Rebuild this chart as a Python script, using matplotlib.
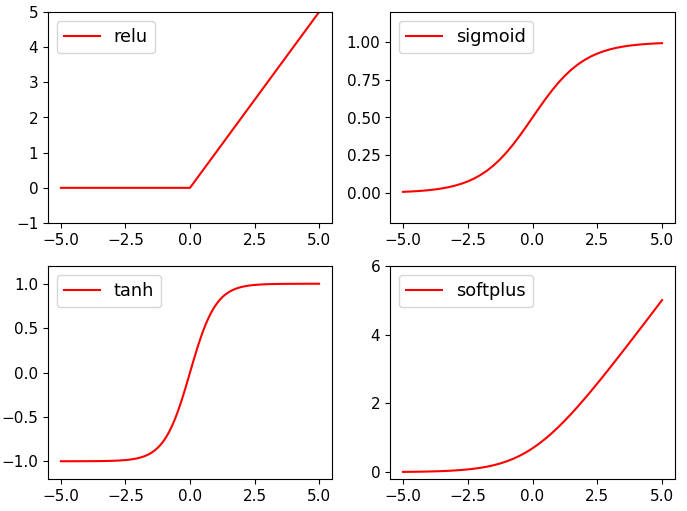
import matplotlib
matplotlib.use("Agg")
import matplotlib.pyplot as plt

x = [-5.0, -4.75, -4.5, -4.25, -4.0, -3.75, -3.5, -3.25, -3.0, -2.75, -2.5, -2.25,
     -2.0, -1.75, -1.5, -1.25, -1.0, -0.75, -0.5, -0.25, 0.0, 0.25, 0.5, 0.75,
     1.0, 1.25, 1.5, 1.75, 2.0, 2.25, 2.5, 2.75, 3.0, 3.25, 3.5, 3.75, 4.0,
     4.25, 4.5, 4.75, 5.0]

relu = [0.0] * 21 + [0.25, 0.5, 0.75, 1.0, 1.25, 1.5, 1.75, 2.0, 2.25, 2.5, 2.75,
                     3.0, 3.25, 3.5, 3.75, 4.0, 4.25, 4.5, 4.75, 5.0]

sigmoid = [0.0067, 0.0086, 0.0110, 0.0141, 0.0180, 0.0230, 0.0293, 0.0373, 0.0474,
           0.0601, 0.0759, 0.0953, 0.1192, 0.1480, 0.1824, 0.2227, 0.2689, 0.3208,
           0.3775, 0.4378, 0.5000, 0.5622, 0.6225, 0.6792, 0.7311, 0.7773, 0.8176,
           0.8520, 0.8808, 0.9047, 0.9241, 0.9399, 0.9526, 0.9627, 0.9707, 0.9770,
           0.9820, 0.9859, 0.9890, 0.9914, 0.9933]

x_tanh = [-5.0, -4.5, -4.0, -3.75, -3.5, -3.25, -3.0, -2.75,
          -2.5, -2.4, -2.3, -2.2, -2.1, -2.0, -1.9, -1.8, -1.7, -1.6, -1.5, -1.4,
          -1.3, -1.2, -1.1, -1.0, -0.9, -0.8, -0.7, -0.6, -0.5, -0.4, -0.3, -0.2,
          -0.1, 0.0, 0.1, 0.2, 0.3, 0.4, 0.5, 0.6, 0.7, 0.8, 0.9, 1.0, 1.1, 1.2,
          1.3, 1.4, 1.5, 1.6, 1.7, 1.8, 1.9, 2.0, 2.1, 2.2, 2.3, 2.4, 2.5,
          2.75, 3.0, 3.25, 3.5, 3.75, 4.0, 4.5, 5.0]

tanh = [-0.9999, -0.9998, -0.9993, -0.9989, -0.9982, -0.9970, -0.9951, -0.9918,
        -0.9866, -0.9837, -0.9801, -0.9757, -0.9705, -0.9640, -0.9562, -0.9468,
        -0.9354, -0.9217, -0.9051, -0.8854, -0.8617, -0.8337, -0.8005, -0.7616,
        -0.7163, -0.6640, -0.6044, -0.5370, -0.4621, -0.3799, -0.2913, -0.1974,
        -0.0997, 0.0, 0.0997, 0.1974, 0.2913, 0.3799, 0.4621, 0.5370, 0.6044,
        0.6640, 0.7163, 0.7616, 0.8005, 0.8337, 0.8617, 0.8854, 0.9051, 0.9217,
        0.9354, 0.9468, 0.9562, 0.9640, 0.9705, 0.9757, 0.9801, 0.9837, 0.9866,
        0.9918, 0.9951, 0.9970, 0.9982, 0.9989, 0.9993, 0.9998, 0.9999]

softplus = [0.0067, 0.0086, 0.0110, 0.0141, 0.0181, 0.0232, 0.0298, 0.0380, 0.0486,
            0.0620, 0.0789, 0.1002, 0.1269, 0.1602, 0.2014, 0.2519, 0.3133, 0.3869,
            0.4741, 0.5759, 0.6931, 0.8259, 0.9741, 1.1369, 1.3133, 1.5019, 1.7014,
            1.9102, 2.1269, 2.3502, 2.5789, 2.8120, 3.0486, 3.2880, 3.5298, 3.7732,
            4.0181, 4.2641, 4.5110, 4.7586, 5.0067]

xticks = [-5.0, -2.5, 0.0, 2.5, 5.0]

plt.rcParams['xtick.labelsize'] = 11
plt.rcParams['ytick.labelsize'] = 11
plt.rcParams['legend.fontsize'] = 12.8

fig = plt.figure(figsize=(6.87, 5.11), dpi=100)

W, H = 687.0, 511.0
def ax_at(l, r, t, b):
    return fig.add_axes([l / W, 1 - b / H, (r - l) / W, (b - t) / H])

ax1 = ax_at(48, 332, 12, 223)
ax1.plot(x, relu, c='red', label='relu')
ax1.set_ylim((-1, 5))
ax1.set_xticks(xticks)
ax1.legend(loc='upper left')

ax2 = ax_at(390, 675, 12, 223)
ax2.plot(x, sigmoid, c='red', label='sigmoid')
ax2.set_ylim((-0.2, 1.2))
ax2.set_xticks(xticks)
ax2.set_yticks([0.0, 0.25, 0.5, 0.75, 1.0])
ax2.legend(loc='upper left')

ax3 = ax_at(48, 332, 266, 479)
ax3.plot(x_tanh, tanh, c='red', label='tanh')
ax3.set_ylim((-1.2, 1.2))
ax3.set_xticks(xticks)
ax3.legend(loc='upper left')

ax4 = ax_at(390, 675, 266, 479)
ax4.plot(x, softplus, c='red', label='softplus')
ax4.set_ylim((-0.2, 6))
ax4.set_xticks(xticks)
ax4.set_yticks([0, 2, 4, 6])
ax4.legend(loc='upper left')

fig.savefig('out.png', dpi=100)
